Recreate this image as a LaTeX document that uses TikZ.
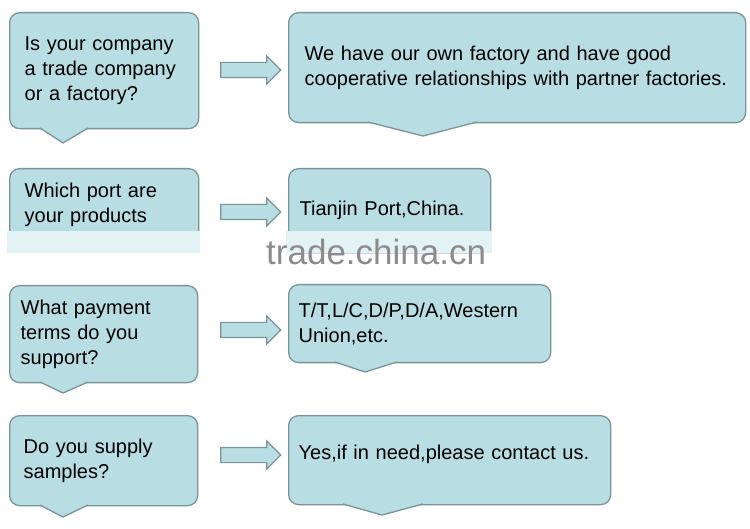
\documentclass[tikz,border=0pt]{standalone}
\usepackage{fontspec}
\setmainfont{Liberation Sans}
\usetikzlibrary{shapes.arrows, positioning}
\definecolor{boxfill}{RGB}{184,222,228}
\definecolor{boxline}{RGB}{122,148,152}
\definecolor{markgray}{RGB}{140,140,140}

\begin{document}
\begin{tikzpicture}[x=1pt, y=-1pt,
	bubble/.style n args={3}{rectangle, rounded corners=10pt, draw=boxline, fill=boxfill, line width=1.3pt, anchor=north west, minimum width=#1, minimum height=#2, inner xsep=#3, inner ysep=0pt, text width=#1-2*#3, align=left, font=\fontsize{20}{25}\selectfont},
	blockarrow/.style={single arrow, draw=boxline, fill=boxfill, line width=1.2pt, minimum height=60pt, inner sep=7pt, single arrow head extend=6.5pt, single arrow tip angle=90}]
		\fill[white] (0,0) rectangle (750,529);
		\useasboundingbox (0,0) rectangle (750,529);
		% questions
		\node[bubble={189}{116}{15}] (q1) at (9,12) {Is your company\\a trade company\\or a factory?};
		\node[bubble={189}{72}{15}] (q2) at (9,168) {Which port are\\your products};
		\node[bubble={188}{97}{11}] (q3) at (9,285) {What payment\\terms do you\\support?};
		\node[bubble={188}{90}{14}] (q4) at (9,415) {Do you supply\\samples?};
		% answers
		\node[bubble={457}{110}{16}] (a1) at (288,12) {We have our own factory and have good\\cooperative relationships with partner factories.};
		\node[bubble={202}{84}{11}] (a2) at (288,168) {Tianjin Port,China.};
		\node[bubble={262}{78}{10}] (a3) at (288,284) {T/T,L/C,D/P,D/A,Western\\Union,etc.};
		\node[bubble={322}{89}{10}, text depth=16pt] (a4) at (288,415) {Yes,if in need,please contact us.};
		% tails
		\foreach \l/\r/\b/\ax/\ay in {40/88/128/63/143, 368/477/122/423/136, 40/88/382/63/393, 335/397/362/365/372, 40/88/505/63/517, 343/423/504/382/515}{
			\fill[boxfill] (\l,\b-2) -- (\l,\b) -- (\ax,\ay) -- (\r,\b) -- (\r,\b-2) -- cycle;
			\draw[boxline, line width=1.3pt, line join=round] (\l,\b) -- (\ax,\ay) -- (\r,\b);
		}
		% arrows
		\node[blockarrow] (r1) at (247,70) {};
		\node[blockarrow] (r2) at (247,212) {};
		\node[blockarrow] (r3) at (247,330) {};
		\node[blockarrow] (r4) at (247,455) {};
		% faded band and watermark
		\fill[boxfill!40!white] (7,231) rectangle (200,253);
		\fill[boxfill!40!white] (286,231) rectangle (492,253);
		\node[font=\fontsize{35}{35}\selectfont, text=markgray, anchor=base west, inner sep=0pt] (mark) at (266,265) {trade.china.cn};
	\end{tikzpicture}
\end{document}
